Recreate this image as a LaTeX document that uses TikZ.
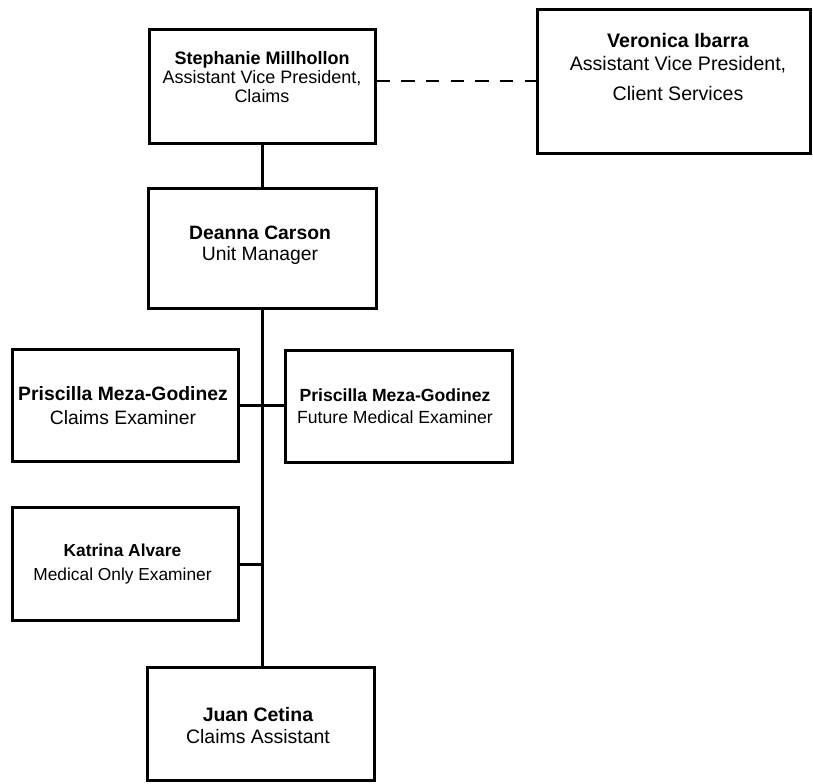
\documentclass[tikz,border=0pt]{standalone}
\usepackage{fontspec}
\setmainfont{Liberation Sans}
\usepackage{tikz}
\usepackage{xcolor}

\begin{document}
\begin{tikzpicture}[x=0.75pt,y=0.75pt,yscale=-1,xscale=1,
        orgbox/.style={draw, line width=2.25pt, inner sep=0pt},
        orgtext/.style={align=center, inner sep=0.75pt},
        orgline/.style={line width=2.25pt},
        orgdash/.style={line width=1.5pt, dash pattern=on 10pt off 8.5pt}]
        \path [use as bounding box] (0,0) rectangle (813,783);

        %Shape: Rectangle [Stephanie]
        \node [orgbox, minimum width=169.5pt, minimum height=85.5pt] (smill) at (262,86) {};
        %Shape: Rectangle [Veronica]
        \node [orgbox, minimum width=204.75pt, minimum height=108pt] (vibar) at (673.5,81) {};
        %Shape: Rectangle [Deanna]
        \node [orgbox, minimum width=171pt, minimum height=90pt] (dcars) at (262,248) {};
        %Shape: Rectangle [Priscilla, left]
        \node [orgbox, minimum width=169.5pt, minimum height=84pt] (pmgl) at (125,405) {};
        %Shape: Rectangle [Priscilla, right]
        \node [orgbox, minimum width=170.25pt, minimum height=84pt] (pmgr) at (398.5,406) {};
        %Shape: Rectangle [Katrina]
        \node [orgbox, minimum width=169.5pt, minimum height=84.75pt] (kalv) at (125,564) {};
        %Shape: Rectangle [Juan]
        \node [orgbox, minimum width=170.25pt, minimum height=84.75pt] (jcet) at (261,723.5) {};

        %Straight Lines
        \draw [orgline] (smill.south) -- (smill.south |- dcars.north) ;
        \draw [orgline] (dcars.south) -- (dcars.south |- jcet.north) ;
        \draw [orgline] (pmgl.east) -- (pmgl.east -| pmgr.west) ;
        \draw [orgline] (kalv.east) -- (kalv.east -| dcars.south) ;
        %Dashed Line
        \draw [orgdash] (smill.east |- vibar.west) -- (vibar.west) ;

        % Text Node
        \node [orgtext, font=\fontsize{13.5}{14}\selectfont] (smill-t) at (262,77) {\textbf{Stephanie Millhollon}\\Assistant Vice President,\\Claims};
        % Text Node
        \node [orgtext, font=\fontsize{14.7}{17}\selectfont] (vibar-t) at (678,67) {\textbf{Veronica Ibarra}\\Assistant Vice President,\\[6pt]Client Services};
        % Text Node
        \node [orgtext, font=\fontsize{14.5}{15.5}\selectfont] (dcars-t) at (260,245.5) {\textbf{Deanna Carson}\\Unit Manager};
        % Text Node
        \node [orgtext, font=\fontsize{14.5}{18}\selectfont] (pmgl-t) at (123,405.5) {\textbf{Priscilla Meza-Godinez}\\Claims Examiner};
        % Text Node
        \node [orgtext, font=\fontsize{13.2}{16.5}\selectfont] (pmgr-t) at (395,406) {\textbf{Priscilla Meza-Godinez}\\Future Medical Examiner};
        % Text Node
        \node [orgtext, font=\fontsize{13}{18}\selectfont] (kalv-t) at (122.5,564) {\textbf{Katrina Alvare}\\Medical Only Examiner};
        % Text Node
        \node [orgtext, font=\fontsize{14.6}{16.5}\selectfont] (jcet-t) at (258,726) {\textbf{Juan Cetina}\\Claims Assistant};

\end{tikzpicture}
\end{document}
